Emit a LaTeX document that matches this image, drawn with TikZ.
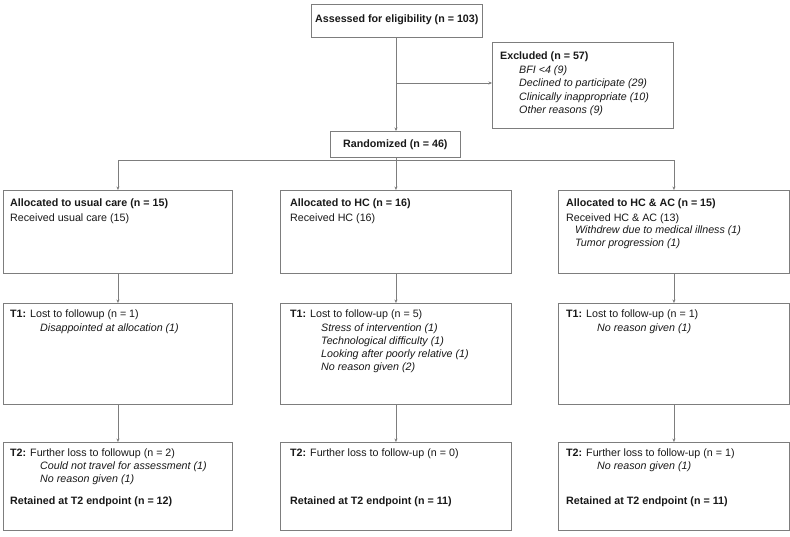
\documentclass[tikz,border=0pt]{standalone}
\usepackage{fontspec}
\setmainfont{Liberation Sans}
\usetikzlibrary{arrows.meta}
\definecolor{linegray}{RGB}{125,125,125}
\definecolor{txt}{RGB}{25,25,25}
\begin{document}
\begin{tikzpicture}[x=1pt,y=-1pt,
  box/.style={draw=linegray, line width=0.9pt, fill=white, anchor=north west, inner sep=0pt},
  lbl/.style={anchor=west, inner sep=0pt, text=txt, font=\fontsize{10.7}{12}\selectfont},
  arr/.style={draw=linegray, line width=0.8pt, -{Stealth[length=3.5pt,width=3pt]}},
  ln/.style={draw=linegray, line width=0.8pt}]
\useasboundingbox (0,0) rectangle (790,537);
% boxes
\node[box, minimum width=171pt, minimum height=33pt] (ass) at (311,4) {};
\node[box, minimum width=181pt, minimum height=86pt] (exc) at (492,42) {};
\node[box, minimum width=130pt, minimum height=26pt] (ran) at (330,131) {};
\node[box, minimum width=229pt, minimum height=83pt] (uc) at (3,190) {};
\node[box, minimum width=231pt, minimum height=83pt] (hc) at (280,190) {};
\node[box, minimum width=231pt, minimum height=83pt] (ac) at (558,190) {};
\node[box, minimum width=229pt, minimum height=101pt] (t1a) at (3,303) {};
\node[box, minimum width=231pt, minimum height=101pt] (t1b) at (280,303) {};
\node[box, minimum width=231pt, minimum height=101pt] (t1c) at (558,303) {};
\node[box, minimum width=229pt, minimum height=88pt] (t2a) at (3,442) {};
\node[box, minimum width=231pt, minimum height=88pt] (t2b) at (280,442) {};
\node[box, minimum width=231pt, minimum height=88pt] (t2c) at (558,442) {};
% texts
\node[lbl] (tass) at (315,20) {\textbf{Assessed for eligibility (n = 103)}};
\node[lbl] (texc) at (500,57) {\textbf{Excluded (n = 57)}};
\node[lbl] (te1) at (519,71) {\textit{BFI <4 (9)}};
\node[lbl] (te2) at (519,84) {\textit{Declined to participate (29)}};
\node[lbl] (te3) at (519,97.5) {\textit{Clinically inappropriate (10)}};
\node[lbl] (te4) at (519,110.5) {\textit{Other reasons (9)}};
\node[lbl] (tran) at (343,144.5) {\textbf{Randomized (n = 46)}};
\node[lbl] (tuc1) at (10,204) {\textbf{Allocated to usual care (n = 15)}};
\node[lbl] (tuc2) at (10,218.5) {Received usual care (15)};
\node[lbl] (thc1) at (290,204) {\textbf{Allocated to HC (n = 16)}};
\node[lbl] (thc2) at (290,218.5) {Received HC (16)};
\node[lbl] (tac1) at (566,204) {\textbf{Allocated to HC \& AC (n = 15)}};
\node[lbl] (tac2) at (566,218.5) {Received HC \& AC (13)};
\node[lbl] (tac3) at (575,231) {\textit{Withdrew due to medical illness (1)}};
\node[lbl] (tac4) at (575,243.5) {\textit{Tumor progression (1)}};
\node[lbl] (t1a1) at (10,314.5) {\textbf{T1:} Lost to followup (n = 1)};
\node[lbl] (t1a2) at (40,329) {\textit{Disappointed at allocation (1)}};
\node[lbl] (t1b1) at (290,314.5) {\textbf{T1:} Lost to follow-up (n = 5)};
\node[lbl] (t1b2) at (321,329) {\textit{Stress of intervention (1)}};
\node[lbl] (t1b3) at (321,342) {\textit{Technological difficulty (1)}};
\node[lbl] (t1b4) at (321,355) {\textit{Looking after poorly relative (1)}};
\node[lbl] (t1b5) at (321,368) {\textit{No reason given (2)}};
\node[lbl] (t1c1) at (566,314.5) {\textbf{T1:} Lost to follow-up (n = 1)};
\node[lbl] (t1c2) at (597,329) {\textit{No reason given (1)}};
\node[lbl] (t2a1) at (10,453.5) {\textbf{T2:} Further loss to followup (n = 2)};
\node[lbl] (t2a2) at (40,467) {\textit{Could not travel for assessment (1)}};
\node[lbl] (t2a3) at (40,479.5) {\textit{No reason given (1)}};
\node[lbl] (t2a4) at (10,502) {\textbf{Retained at T2 endpoint (n = 12)}};
\node[lbl] (t2b1) at (290,453.5) {\textbf{T2:} Further loss to follow-up (n = 0)};
\node[lbl] (t2b4) at (290,502) {\textbf{Retained at T2 endpoint (n = 11)}};
\node[lbl] (t2c1) at (566,453.5) {\textbf{T2:} Further loss to follow-up (n = 1)};
\node[lbl] (t2c2) at (597,467) {\textit{No reason given (1)}};
\node[lbl] (t2c4) at (566,502) {\textbf{Retained at T2 endpoint (n = 11)}};
% connectors
\coordinate (br) at (396,160);
\draw[arr] (ass.south -| 396,0) -- (ran.north -| 396,0);
\draw[arr] (396,83) coordinate (bx) -- (bx -| exc.west);
\draw[ln] (ran.south -| br) -- (br);
\draw[arr] (br) -| (uc.north);
\draw[arr] (br) -| (hc.north);
\draw[arr] (br) -| (ac.north);
\draw[arr] (uc.south) -- (t1a.north);
\draw[arr] (hc.south) -- (t1b.north);
\draw[arr] (ac.south) -- (t1c.north);
\draw[arr] (t1a.south) -- (t2a.north);
\draw[arr] (t1b.south) -- (t2b.north);
\draw[arr] (t1c.south) -- (t2c.north);
\end{tikzpicture}
\end{document}
